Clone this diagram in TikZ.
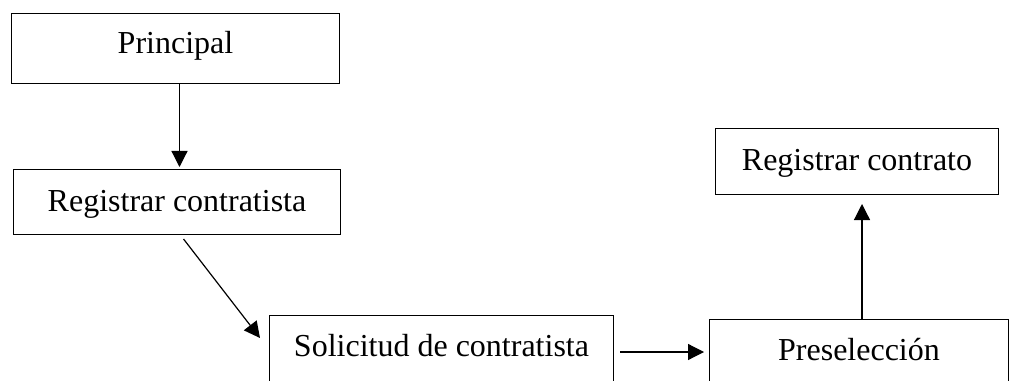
\documentclass[tikz,border=0pt]{standalone}
\usepackage{fontspec}
\setmainfont{Liberation Serif}
\usetikzlibrary{arrows.meta}
\begin{document}
\begin{tikzpicture}[x=0.75pt,y=-0.75pt,
  box/.style={draw,line width=0.75pt,inner sep=0pt,anchor=north west,
    font=\fontsize{24}{28}\selectfont,align=center},
  arr/.style={line width=0.9pt,-{Triangle[length=12pt,width=12pt]}}]
\useasboundingbox (0,0) rectangle (1010,381);
\clip (0,0) rectangle (1010,381);
\node[box,minimum width=246pt,text height=30pt,text depth=22.5pt] (prin) at (11,13) {Principal};
\node[box,minimum width=245.25pt,text height=31.5pt,text depth=17.25pt] (rc) at (13,169) {Registrar contratista};
\node[box,minimum width=258pt,text height=30.75pt,text depth=21.75pt] (sol) at (269,315) {Solicitud de contratista};
\node[box,minimum width=224.25pt,text height=30.75pt,text depth=25.5pt] (pre) at (709,319) {Preselección};
\node[box,minimum width=212.25pt,text height=31.5pt,text depth=18pt] (rcon) at (715,128) {Registrar contrato};
\draw[arr] ([xshift=3pt]prin.south) -- ([xshift=3pt,yshift=1.5pt]prin.south |- rc.north);
\draw[arr] ([xshift=4.9pt,yshift=-3pt]rc.south) -- ([xshift=-6.75pt,yshift=-17.25pt]sol.north west);
\draw[arr] ([xshift=4.5pt,yshift=-27.75pt]sol.north east) -- ([xshift=-3.75pt,yshift=-24.75pt]pre.north west);
\draw[arr] ([xshift=2.25pt]pre.north) -- ([xshift=2.25pt,yshift=-6.75pt]pre.north |- rcon.south);
\end{tikzpicture}
\end{document}
